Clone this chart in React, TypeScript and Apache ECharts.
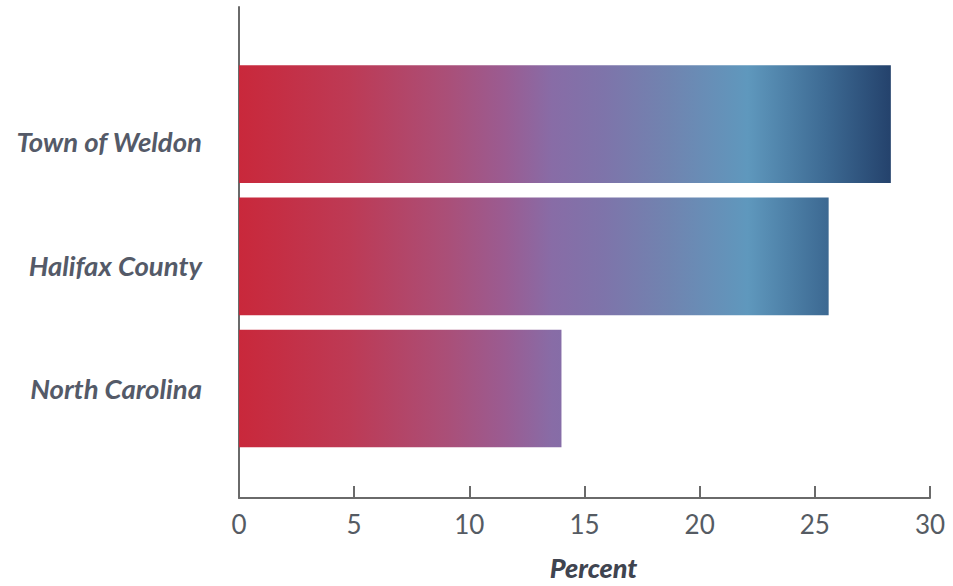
import React, { useEffect, useRef } from "react";
import * as echarts from "echarts";

const categories = ["Town of Weldon", "Halifax County", "North Carolina"];
const values = [28.3, 25.6, 14.0];
const xTicks = { min: 0, max: 30, interval: 5 };
const axisName = "Percent";
const gradientStops: [number, string][] = [
  [0, "#c9283b"],
  [0.17, "#bd3a55"],
  [0.32, "#aa4f78"],
  [0.41, "#9a5c92"],
  [0.48, "#886ca6"],
  [0.56, "#7e74aa"],
  [0.66, "#7084b0"],
  [0.78, "#5f98bd"],
  [0.9, "#3d6a93"],
  [1, "#24426c"],
];

function hexToRgb(h: string) {
  const n = parseInt(h.slice(1), 16);
  return [(n >> 16) & 255, (n >> 8) & 255, n & 255];
}
function rgbToHex(c: number[]) {
  return "#" + c.map((v) => Math.round(v).toString(16).padStart(2, "0")).join("");
}
function colorAt(g: number) {
  for (let i = 1; i < gradientStops.length; i++) {
    const [p1, c1] = gradientStops[i];
    const [p0, c0] = gradientStops[i - 1];
    if (g <= p1) {
      const t = (g - p0) / (p1 - p0);
      const a = hexToRgb(c0), b = hexToRgb(c1);
      return rgbToHex(a.map((v, k) => v + (b[k] - v) * t));
    }
  }
  return gradientStops[gradientStops.length - 1][1];
}
function localGradient(v: number, vmax: number) {
  const frac = v / vmax;
  const stops: { offset: number; color: string }[] = [];
  for (const [p, c] of gradientStops) {
    if (p <= frac) stops.push({ offset: p / frac, color: c });
  }
  if (stops[stops.length - 1].offset < 1) stops.push({ offset: 1, color: colorAt(frac) });
  return new echarts.graphic.LinearGradient(0, 0, 1, 0, stops);
}

export default function App() {
  const ref = useRef<HTMLDivElement>(null);
  useEffect(() => {
    document.body.style.margin = "0";
    const chart = echarts.init(ref.current!, null, { renderer: "svg" });
    const vmax = Math.max(...values);
    const font = "Lato, 'Open Sans', sans-serif";
    const hiddenX = (gi: number) => ({
      type: "value", gridIndex: gi, min: xTicks.min, max: xTicks.max, interval: xTicks.interval, show: false,
    });
    chart.setOption({
      animation: false,
      grid: [
        { left: 239, right: 23, top: 58, height: 396.6 },
        { left: 239, right: 23, top: 7, bottom: 84 },
        { left: 239, right: 23, top: 79.75, height: 370.5 },
      ],
      xAxis: [
        hiddenX(0),
        {
          type: "value", gridIndex: 1, min: xTicks.min, max: xTicks.max, interval: xTicks.interval,
          axisLine: { show: true, lineStyle: { color: "#6a6a6a", width: 2 } },
          axisTick: { show: true, inside: true, length: 12, lineStyle: { color: "#6a6a6a", width: 2 } },
          splitLine: { show: false },
          axisLabel: { fontSize: 26, color: "#555b63", fontFamily: font, margin: 13 },
          name: axisName, nameLocation: "middle", nameGap: 56,
          nameTextStyle: {
            fontSize: 27, fontWeight: 900, fontStyle: "italic", color: "#3f4450", fontFamily: font,
            padding: [0, 0, 0, 18],
          },
        },
        hiddenX(2),
      ],
      yAxis: [
        { type: "category", gridIndex: 0, data: categories, inverse: true, show: false },
        {
          type: "value", gridIndex: 1, min: 0, max: 1,
          axisLine: { show: true, lineStyle: { color: "#6a6a6a", width: 2 } },
          axisTick: { show: false }, axisLabel: { show: false }, splitLine: { show: false },
        },
        {
          type: "category", gridIndex: 2, data: categories, inverse: true,
          axisLine: { show: false }, axisTick: { show: false },
          axisLabel: { fontSize: 27.5, fontWeight: "bold", fontStyle: "italic", color: "#545a68", fontFamily: font, margin: 37 },
        },
      ],
      series: [
        {
          type: "bar", xAxisIndex: 0, yAxisIndex: 0, barWidth: "89%",
          data: values.map((v) => ({ value: v, itemStyle: { color: localGradient(v, vmax) } })),
        },
      ],
    });
    return () => chart.dispose();
  }, []);
  return <div ref={ref} style={{ width: 953, height: 586 }} />;
}
